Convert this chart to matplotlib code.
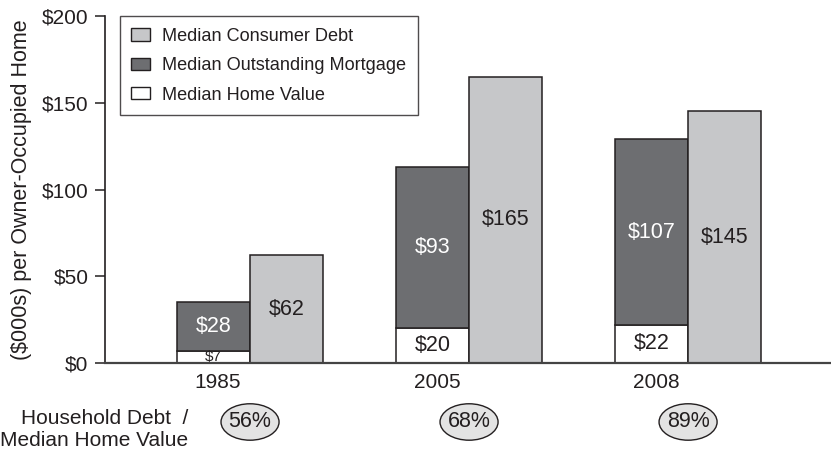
import matplotlib.pyplot as plt
from matplotlib.patches import Ellipse, Patch

years = ['1985', '2005', '2008']
consumer_debt = [7, 20, 22]
mortgage = [28, 93, 107]
home_value = [62, 165, 145]
debt_ratio = ['56%', '68%', '89%']

plt.rcParams['font.family'] = ['Liberation Sans', 'DejaVu Sans']

dark = '#6d6e71'
light = '#c6c7c9'
edge = '#231f20'
txt = '#231f20'

fig = plt.figure(figsize=(8.31, 4.55), dpi=100)
ax = fig.add_axes([0.1264, 0.2022, 0.8724, 0.7626])

x = list(range(len(years)))
w = 0.333
left = [i - w / 2 for i in x]
right = [i + w / 2 for i in x]

ax.bar(left, consumer_debt, w, color='white', edgecolor=edge, linewidth=1.1)
ax.bar(left, mortgage, w, bottom=consumer_debt, color=dark, edgecolor=edge, linewidth=1.1)
ax.bar(right, home_value, w, color=light, edgecolor=edge, linewidth=1.1)

# value labels
for i in x:
    fs = 11 if consumer_debt[i] < 10 else 15.5
    ax.text(left[i], consumer_debt[i] / 2, f'${consumer_debt[i]}', ha='center', va='center',
            fontsize=fs, color=txt)
    ax.text(left[i], consumer_debt[i] + mortgage[i] / 2, f'${mortgage[i]}', ha='center',
            va='center', fontsize=15.5, color='white')
    ax.text(right[i], home_value[i] / 2, f'${home_value[i]}', ha='center', va='center',
            fontsize=15.5, color=txt)
    # ratio ellipses
    ax.add_patch(Ellipse((i, -34), 0.265, 21, transform=ax.transData, clip_on=False,
                         facecolor='#e3e3e3', edgecolor=edge, linewidth=1.0))
    ax.text(i, -34, debt_ratio[i], ha='center', va='center', fontsize=15.5, color=txt)

ax.text(-0.283, -38.5, 'Household Debt  /\nMedian Home Value', ha='right', va='center',
        multialignment='right', fontsize=15, color=txt, linespacing=1.2)

ax.set_xlim(-0.662, 2.648)
ax.set_ylim(0, 200)
ax.set_yticks([0, 50, 100, 150, 200])
ax.set_yticklabels(['$0', '$50', '$100', '$150', '$200'])
ax.set_xticks([l + 0.02 for l in left])
ax.set_xticklabels(years)
ax.tick_params(axis='y', length=7, width=1.1, color=edge, labelsize=15, labelcolor=txt, pad=5)
ax.tick_params(axis='x', length=0, labelsize=15, labelcolor=txt, pad=7)
ax.set_ylabel('($000s) per Owner-Occupied Home', fontsize=15.5, color=txt, labelpad=7)

for s in ['top', 'right']:
    ax.spines[s].set_visible(False)
ax.spines['left'].set_color(edge)
ax.spines['left'].set_linewidth(1.2)
ax.spines['bottom'].set_color('#444444')
ax.spines['bottom'].set_linewidth(1.6)

handles = [Patch(facecolor=light, edgecolor=edge, linewidth=1.0),
           Patch(facecolor=dark, edgecolor=edge, linewidth=1.0),
           Patch(facecolor='white', edgecolor=edge, linewidth=1.0)]
labels = ['Median Consumer Debt', 'Median Outstanding Mortgage', 'Median Home Value']
leg = ax.legend(handles, labels, loc='upper left', bbox_to_anchor=(0.02, 1.0),
                borderaxespad=0, fontsize=13.1, handlelength=1.0, handleheight=0.65,
                handletextpad=0.7, labelspacing=0.68, fancybox=False, frameon=True,
                borderpad=0.65)
leg.get_frame().set_edgecolor(edge)
leg.get_frame().set_linewidth(1.0)
for t in leg.get_texts():
    t.set_color(txt)

fig.savefig('out.png', dpi=100)
